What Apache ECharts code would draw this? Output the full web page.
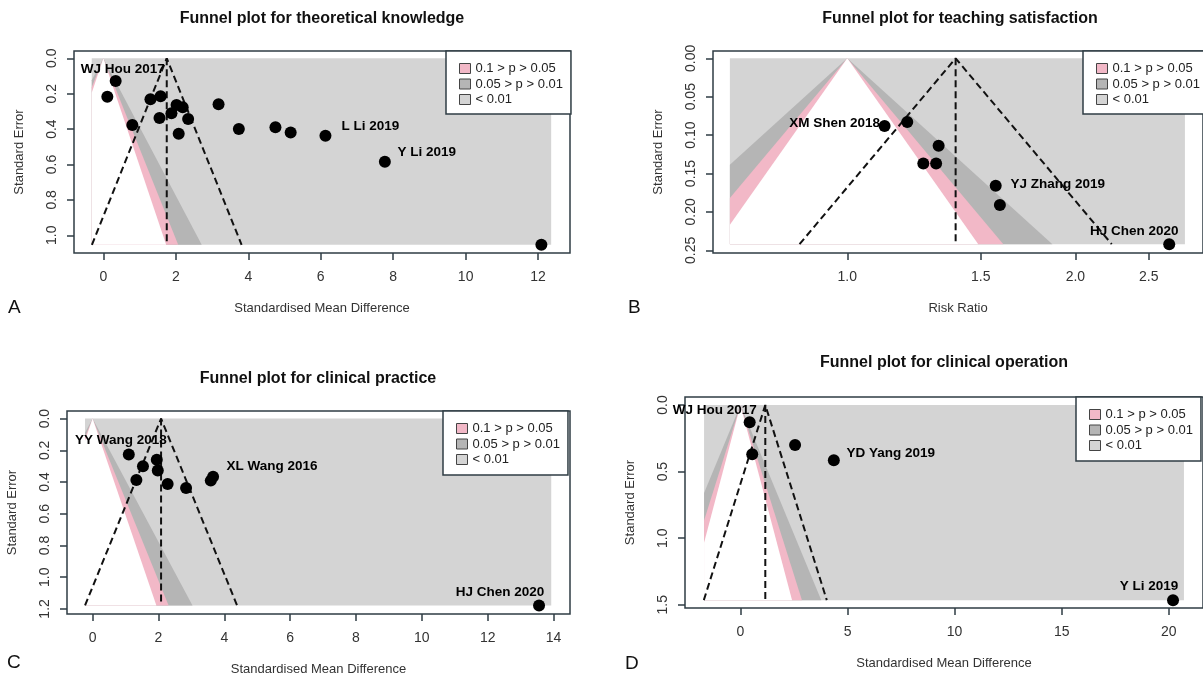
<!DOCTYPE html>
<html>
<head>
<meta charset="utf-8">
<script src="https://cdn.jsdelivr.net/npm/echarts@6/dist/echarts.min.js"></script>
<style>
  html, body { margin: 0; padding: 0; background: #fff; }
  #chart { width: 1203px; height: 677px; }
</style>
</head>
<body>
<div id="chart"></div>
<script>
// A: theoretical knowledge (standardised mean difference)
const smdA = [0.11, 0.34, 0.80, 1.30, 1.58, 1.55, 1.88, 2.02, 2.19, 2.34, 2.08, 3.18, 3.74, 4.75, 5.17, 6.13, 7.77, 12.09]
const seA = [0.217, 0.128, 0.377, 0.232, 0.215, 0.338, 0.311, 0.264, 0.277, 0.343, 0.426, 0.260, 0.400, 0.390, 0.419, 0.438, 0.585, 1.054]
const studyA = ['', 'WJ Hou 2017', '', '', '', '', '', '', '', '', '', '', '', '', '', 'L Li 2019', 'Y Li 2019', '']
const pooledA = 1.75
const seMaxA = 1.054
const shadeA = [-0.32, 12.36]

// B: teaching satisfaction (risk ratio, log scale)
const rrB = [1.12, 1.20, 1.32, 1.26, 1.31, 1.57, 1.59, 2.66]
const seB = [0.088, 0.083, 0.114, 0.137, 0.137, 0.166, 0.191, 0.242]
const studyB = ['XM Shen 2018', '', '', '', '', 'YJ Zhang 2019', '', 'HJ Chen 2020']
const pooledB = 1.39
const seMaxB = 0.242
const shadeB = [0.70, 2.79]

// C: clinical practice (standardised mean difference)
const smdC = [1.10, 1.33, 1.53, 1.95, 1.98, 2.28, 2.84, 3.59, 3.66, 13.56]
const seC = [0.226, 0.387, 0.300, 0.260, 0.327, 0.412, 0.437, 0.391, 0.366, 1.179]
const studyC = ['YY Wang 2018', '', '', '', '', '', '', '', 'XL Wang 2016', 'HJ Chen 2020']
const pooledC = 2.08
const seMaxC = 1.178
const shadeC = [-0.23, 13.93]

// D: clinical operation (standardised mean difference)
const smdD = [0.43, 0.55, 2.55, 4.36, 20.20]
const seD = [0.130, 0.369, 0.301, 0.414, 1.465]
const studyD = ['WJ Hou 2017', '', '', 'YD Yang 2019', 'Y Li 2019']
const pooledD = 1.16
const seMaxD = 1.465
const shadeD = [-1.70, 20.71]

// contour levels (two-sided z for p = 0.01, 0.05, 0.10)
const zBands = [2.576, 1.96, 1.645]
const bandNames = ['< 0.01', '0.05 > p > 0.01', '0.1 > p > 0.05']
const legendNames = ['0.1 > p > 0.05', '0.05 > p > 0.01', '< 0.01']
const titles = ['Funnel plot for theoretical knowledge', 'Funnel plot for teaching satisfaction',
  'Funnel plot for clinical practice', 'Funnel plot for clinical operation']
const letters = ['A', 'B', 'C', 'D']

const xTicksA = [0, 2, 4, 6, 8, 10, 12]
const yTicksA = [0, 0.2, 0.4, 0.6, 0.8, 1.0]
const xTicksB = [1.0, 1.5, 2.0, 2.5]
const yTicksB = [0, 0.05, 0.10, 0.15, 0.20, 0.25]
const xTicksC = [0, 2, 4, 6, 8, 10, 12, 14]
const yTicksC = [0, 0.2, 0.4, 0.6, 0.8, 1.0, 1.2]
const xTicksD = [0, 5, 10, 15, 20]
const yTicksD = [0, 0.5, 1.0, 1.5]

const FONT = "'Liberation Sans', Arial, sans-serif"
const shadeColors = ['#d4d4d4', '#b5b5b5', '#f2b8c7', '#ffffff']
const BOX = '#2f3d44'

const log = Math.log
const panels = [
  {
    x: smdA, se: seA, study: studyA, pooled: pooledA, seMax: seMaxA, shade: shadeA, nullX: 0,
    xTicks: xTicksA, yTicks: yTicksA, xFmt: v => String(v), yFmt: v => v.toFixed(1), xName: 'Standardised Mean Difference',
    box: { left: 74, top: 51, width: 496, height: 202 }, xRange: [-0.81, 12.88], yRange: [-0.041, 1.1],
    title: [322, 11], letter: [8, 298], legendLeft: 446, legendPad: [11, 8, 8, 13],
    offsets: { 'WJ Hou 2017': [7, -12], 'L Li 2019': [45, -10], 'Y Li 2019': [42, -10] }
  },
  {
    x: rrB.map(log), se: seB, study: studyB, pooled: log(pooledB), seMax: seMaxB, shade: shadeB.map(log), nullX: 0,
    xTicks: xTicksB.map(log), yTicks: yTicksB, xFmt: v => Math.exp(v).toFixed(1), yFmt: v => v.toFixed(2), xName: 'Risk Ratio',
    box: { left: 713, top: 51, width: 494, height: 202 }, xRange: [-0.408, 1.081], yRange: [-0.0095, 0.2535],
    title: [960, 11], letter: [628, 298], legendLeft: 1083, legendPad: [11, 8, 8, 13],
    offsets: { 'XM Shen 2018': [-50, -3], 'YJ Zhang 2019': [62, -2], 'HJ Chen 2020': [-35, -13] }
  },
  {
    x: smdC, se: seC, study: studyC, pooled: pooledC, seMax: seMaxC, shade: shadeC, nullX: 0,
    xTicks: xTicksC, yTicks: yTicksC, xFmt: v => String(v), yFmt: v => v.toFixed(1), xName: 'Standardised Mean Difference',
    box: { left: 67, top: 411, width: 503, height: 203 }, xRange: [-0.777, 14.5], yRange: [-0.048, 1.232],
    title: [318, 371], letter: [7, 653], legendLeft: 443, legendPad: [11, 8, 9, 13],
    offsets: { 'YY Wang 2018': [-8, -14], 'XL Wang 2016': [59, -10], 'HJ Chen 2020': [-39, -13] }
  },
  {
    x: smdD, se: seD, study: studyD, pooled: pooledD, seMax: seMaxD, shade: shadeD, nullX: 0,
    xTicks: xTicksD, yTicks: yTicksD, xFmt: v => String(v), yFmt: v => v.toFixed(1), xName: 'Standardised Mean Difference',
    box: { left: 685, top: 397, width: 521, height: 211 }, xRange: [-2.59, 21.6], yRange: [-0.06, 1.524],
    title: [944, 355], letter: [625, 654], legendLeft: 1076, legendPad: [11, 8, 9, 13],
    offsets: { 'WJ Hou 2017': [-35, -12], 'YD Yang 2019': [57, -7], 'Y Li 2019': [-24, -14] }
  }
]

// wedge of |x - null| < z * se, clipped to the shaded strip
function wedge(p, z) {
  const [lo, hi] = p.shade
  const c = p.nullX
  const m = p.seMax
  const sL = (c - lo) / z
  const sR = (hi - c) / z
  const left = [m, sL, 0].filter(s => s >= 0 && s <= m).map(s => [Math.max(c - z * s, lo), s])
  const right = [0, sR, m].filter(s => s >= 0 && s <= m).map(s => [Math.min(c + z * s, hi), s])
  return left.concat(right)
}

function shadeSeries(p, i) {
  const [lo, hi] = p.shade
  const shapes = [
    [[lo, 0], [hi, 0], [hi, p.seMax], [lo, p.seMax]],
    wedge(p, zBands[0]),
    wedge(p, zBands[1]),
    wedge(p, zBands[2])
  ]
  return shapes.map((pts, k) => ({
    type: 'custom',
    name: k < 3 ? bandNames[k] : 'p > 0.1',
    xAxisIndex: i,
    yAxisIndex: i,
    silent: true,
    z: 1 + k * 0.01,
    itemStyle: { color: shadeColors[k] },
    data: [[lo, 0]],
    renderItem: (params, api) => ({
      type: 'polygon',
      shape: { points: pts.map(q => api.coord(q)) },
      style: { fill: shadeColors[k] }
    })
  }))
}

function funnelSeries(p, i) {
  const half = 1.96 * p.seMax
  const dash = { color: '#111', width: 2, type: [7, 4] }
  return [
    {
      type: 'line', xAxisIndex: i, yAxisIndex: i, silent: true, symbol: 'none', z: 3,
      lineStyle: dash,
      data: [[p.pooled - half, p.seMax], [p.pooled, 0], [p.pooled + half, p.seMax]]
    },
    {
      type: 'line', xAxisIndex: i, yAxisIndex: i, silent: true, symbol: 'none', z: 3,
      lineStyle: dash,
      data: [[p.pooled, 0], [p.pooled, p.seMax]]
    }
  ]
}

function pointSeries(p, i) {
  return {
    type: 'scatter', xAxisIndex: i, yAxisIndex: i, silent: true, z: 4,
    symbolSize: 12,
    itemStyle: { color: '#000', opacity: 1 },
    data: p.x.map((x, k) => ({
      value: [x, p.se[k]],
      label: p.study[k] ? {
        show: true, formatter: p.study[k], position: 'inside', offset: p.offsets[p.study[k]],
        color: '#000', opacity: 1, fontWeight: 'bold', fontSize: 13.5, fontFamily: FONT
      } : { show: false }
    }))
  }
}

const axisText = { color: '#333', fontSize: 14, fontFamily: FONT }
const nameText = { color: '#333', fontSize: 13, fontFamily: FONT }

const option = {
  animation: false,
  backgroundColor: '#fff',
  title: panels.map((p, i) => ({
    text: titles[i], left: p.title[0], top: p.title[1], textAlign: 'center', padding: 0,
    textStyle: { fontSize: 16, fontWeight: 'bold', color: '#111', fontFamily: FONT }
  })).concat(panels.map((p, i) => ({
    text: letters[i], left: p.letter[0], top: p.letter[1], padding: 0,
    textStyle: { fontSize: 19, fontWeight: 'normal', color: '#111', fontFamily: FONT }
  }))),
  legend: panels.map(p => ({
    orient: 'vertical', left: p.legendLeft, top: p.box.top, data: legendNames,
    icon: 'rect', itemWidth: 11, itemHeight: 10, itemGap: 2.5, selectedMode: false,
    padding: p.legendPad, borderColor: BOX, borderWidth: 1.5, backgroundColor: '#fff',
    itemStyle: { borderColor: '#444', borderWidth: 1 },
    textStyle: { color: '#222', fontSize: 13, fontFamily: FONT }
  })),
  grid: panels.map(p => ({
    left: p.box.left, top: p.box.top, width: p.box.width, height: p.box.height,
    show: true, borderColor: BOX, borderWidth: 1.5, backgroundColor: 'transparent'
  })),
  xAxis: panels.map((p, i) => ({
    type: 'value', gridIndex: i, min: p.xRange[0], max: p.xRange[1],
    axisLine: { show: false, onZero: false },
    axisTick: { show: true, length: 7, customValues: p.xTicks, lineStyle: { color: BOX, width: 1.5 } },
    axisLabel: { customValues: p.xTicks, formatter: p.xFmt, margin: 17, ...axisText },
    splitLine: { show: false },
    name: p.xName, nameLocation: 'middle', nameGap: 49, nameTextStyle: nameText
  })),
  yAxis: panels.map((p, i) => ({
    type: 'value', gridIndex: i, inverse: true, min: p.yRange[0], max: p.yRange[1],
    axisLine: { show: false, onZero: false },
    axisTick: { show: true, length: 7, customValues: p.yTicks, lineStyle: { color: BOX, width: 1.5 } },
    axisLabel: { customValues: p.yTicks, formatter: p.yFmt, rotate: 90, margin: 15, ...axisText },
    splitLine: { show: false },
    name: 'Standard Error', nameLocation: 'middle', nameGap: 48, nameTextStyle: nameText
  })),
  series: panels.flatMap((p, i) => [...shadeSeries(p, i), ...funnelSeries(p, i), pointSeries(p, i)])
}

const myChart = echarts.init(document.getElementById('chart'))
myChart.setOption(option)
</script>
</body>
</html>
